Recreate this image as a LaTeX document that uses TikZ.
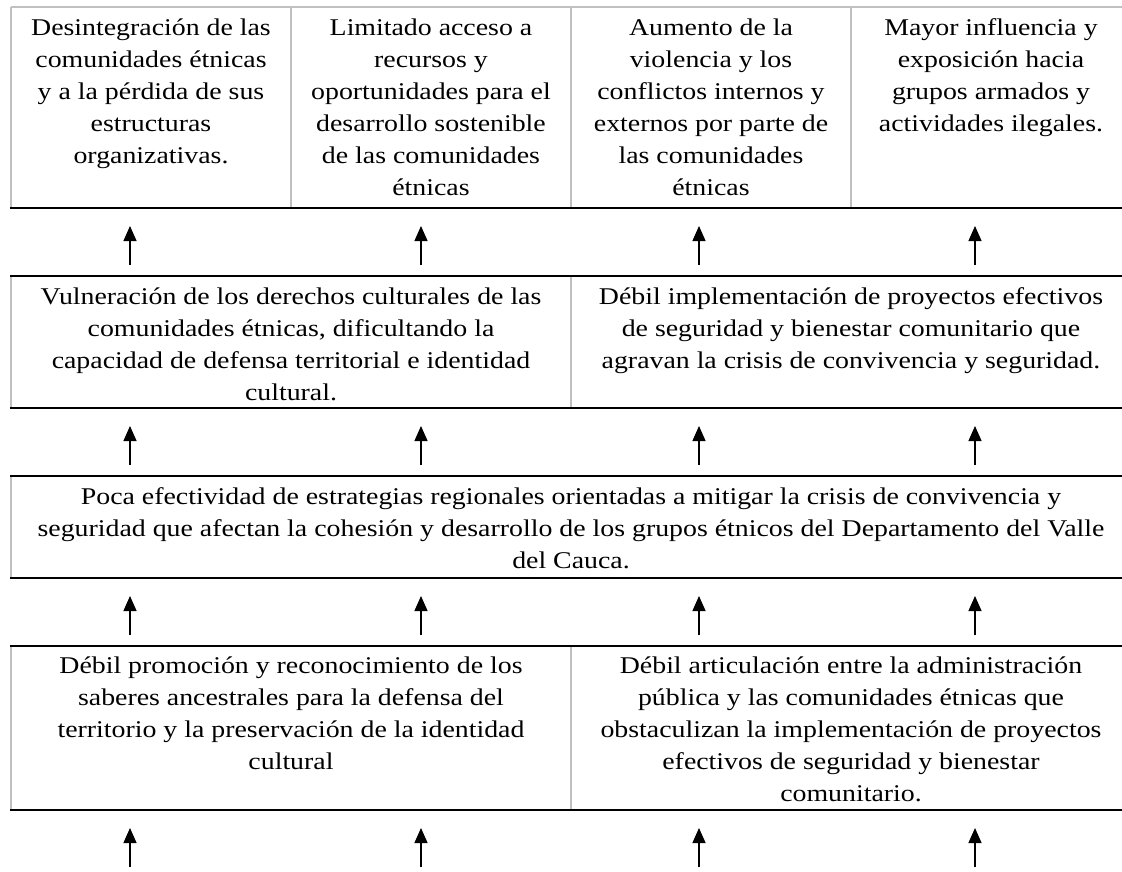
\documentclass[tikz,border=0pt]{standalone}
\usepackage{fontspec}
\setmainfont{Liberation Serif}[FakeStretch=1.16]
\usetikzlibrary{arrows.meta}
\definecolor{gridgray}{RGB}{192,192,192}
\newcommand\fst{\rule{0pt}{22pt}}
\begin{document}
\begin{tikzpicture}[x=1pt,y=-1pt,
  cell/.style={anchor=north, inner sep=0pt, align=center, font=\fontsize{24}{32}\selectfont},
  rowline/.style={line width=2pt, black},
  gridline/.style={line width=1.2pt, gridgray},
  uparrow/.style={line width=1.3pt, -{Triangle[length=15pt,width=13pt]}}]
\useasboundingbox[fill=white] (0,0) rectangle (1122,872);

% ---- grid lines ----
% row 1 (7..208)
\draw[gridline] (11,7) -- (1131,7);
\foreach \x in {11,291,571,851,1131} \draw[gridline] (\x,7) -- (\x,208);
% row 2 (276..408)
\foreach \x in {11,571,1131} \draw[gridline] (\x,276) -- (\x,408);
% row 3 (476..578)
\foreach \x in {11,1131} \draw[gridline] (\x,476) -- (\x,578);
% row 4 (646..810)
\foreach \x in {11,571,1131} \draw[gridline] (\x,646) -- (\x,810);
% black row lines
\foreach \y in {208,276,408,476,578,646,810} \draw[rowline] (10,\y) -- (1132,\y);

% ---- cells ----
\node[cell] (r1c1) at (151,13) {\fst Desintegración de las\\comunidades étnicas\\y a la pérdida de sus\\estructuras\\organizativas.};
\node[cell] (r1c2) at (431,13) {\fst Limitado acceso a\\recursos y\\oportunidades para el\\desarrollo sostenible\\de las comunidades\\étnicas};
\node[cell] (r1c3) at (711,13) {\fst Aumento de la\\violencia y los\\conflictos internos y\\externos por parte de\\las comunidades\\étnicas};
\node[cell] (r1c4) at (991,13) {\fst Mayor influencia y\\exposición hacia\\grupos armados y\\actividades ilegales.};

\node[cell] (r2c1) at (291,282) {\fst Vulneración de los derechos culturales de las\\comunidades étnicas, dificultando la\\capacidad de defensa territorial e identidad\\cultural.};
\node[cell] (r2c2) at (851,282) {\fst Débil implementación de proyectos efectivos\\de seguridad y bienestar comunitario que\\agravan la crisis de convivencia y seguridad.};

\node[cell] (r3) at (571,482) {\fst Poca efectividad de estrategias regionales orientadas a mitigar la crisis de convivencia y\\seguridad que afectan la cohesión y desarrollo de los grupos étnicos del Departamento del Valle\\del Cauca.};

\node[cell] (r4c1) at (291,651) {\fst Débil promoción y reconocimiento de los\\saberes ancestrales para la defensa del\\territorio y la preservación de la identidad\\cultural};
\node[cell] (r4c2) at (851,651) {\fst Débil articulación entre la administración\\pública y las comunidades étnicas que\\obstaculizan la implementación de proyectos\\efectivos de seguridad y bienestar\\comunitario.};

% ---- arrows ----
\foreach \g/\t/\b in {1/226/265, 2/426/465, 3/596/635, 4/828/867}{
  \foreach \k/\x in {1/130, 2/421, 3/699, 4/975}{
    \coordinate (t\g\k) at (\x,\t);
    \coordinate (b\g\k) at (\x,\b);
    \draw[uparrow] (b\g\k) -- (t\g\k);
  }
}
\end{tikzpicture}
\end{document}
